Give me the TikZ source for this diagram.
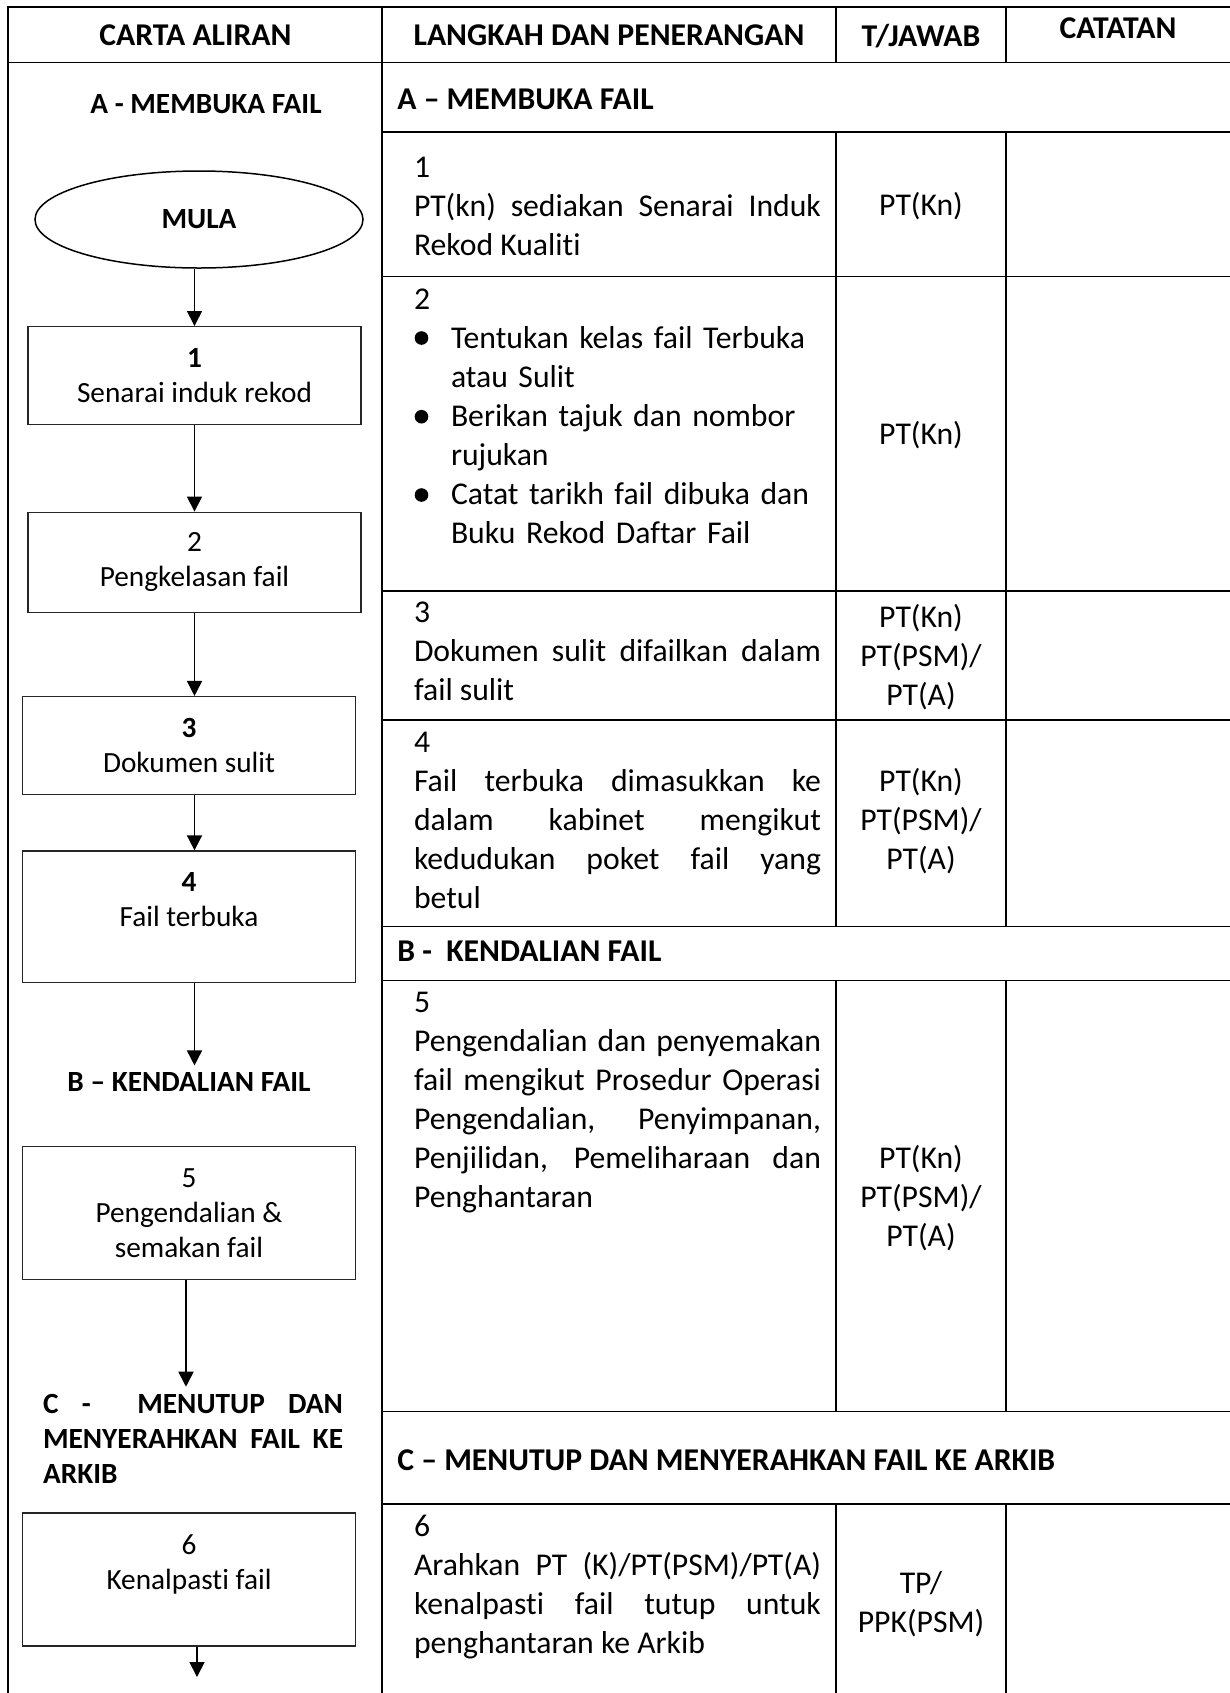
\documentclass[tikz,border=0pt]{standalone}
\usepackage{fontspec}
\setmainfont{Carlito}[Ligatures = {TeX, NoCommon}]
\usetikzlibrary{shapes.geometric, arrows.meta}

\hyphenpenalty=10000
\exhyphenpenalty=10000

\newcommand{\tabfont}{\fontsize{15.85}{19.5}\selectfont}
\newcommand{\boxfont}{\fontsize{14.65}{17.5}\selectfont}
\newlength{\bulind}
\setlength{\bulind}{18.5pt}
\newcommand{\bulitem}{\par\hangindent=\bulind\hangafter=1\noindent\hspace*{\bulind}}

\begin{document}
\begin{tikzpicture}[x = 0.5pt, y = -0.5pt, > = {Triangle[length = 7.5pt, width = 7.5pt]},
	flowbox/.style = {draw = black!85, line width = 0.65pt, rectangle, minimum width = 166.5pt, align = center, font = \boxfont, inner sep = 0pt},
	terminal/.style = {draw, line width = 0.75pt, ellipse, minimum width = 164pt, minimum height = 48.5pt, font = \boxfont\bfseries, inner sep = 0pt},
	heading/.style = {font = \boxfont\bfseries},
	title/.style = {inner sep = 0pt, font = \tabfont\bfseries},
	desc/.style = {anchor = base west, text width = 203.5pt, align = justify, inner sep = 0pt, font = \tabfont},
	resp/.style = {align = center, inner sep = 0pt, font = \tabfont},
	grid/.style = {line width = 0.85pt},
	flow/.style = {->, line width = 0.85pt}]

	% Page size
	
	\useasboundingbox (0, 0) rectangle (1230, 1693);
	
	% Table rules
	
	\begin{scope}[grid]
	
		\draw (1230, 7) -- (8, 7) -- (8, 1693);
		\draw (8, 62.5) -- (1230, 62.5);
		\draw (382, 7) -- (382, 1693);
		
		\foreach \y in {132, 276.5, 590.7, 720, 926.6, 980.6, 1411.5, 1504}
			\draw (382, \y) -- (1230, \y);
			
		\foreach \x in {836, 1006} {
			\draw (\x, 7) -- (\x, 62.5);
			\draw (\x, 132) -- (\x, 926.6);
			\draw (\x, 980.6) -- (\x, 1411.5);
			\draw (\x, 1504) -- (\x, 1693);
		}
		
	\end{scope}
	
	% Column titles
	
	\node [title] (tchart) at (195.5, 35.6) {CARTA ALIRAN};
	\node [title] (tstep) at (609, 35.6) {LANGKAH DAN PENERANGAN};
	\node [title] (tresp) at (921, 35.6) {T/JAWAB};
	\node [title] (tnote) at (1118, 28) {CATATAN};
	
	% Section rows
	
	\node [title, anchor = west] (secA) at (397, 99.4) {A -- MEMBUKA FAIL};
	\node [title, anchor = west] (secB) at (397, 951.5) {B - ~KENDALIAN FAIL};
	\node [title, anchor = west] (secC) at (397, 1460) {C -- MENUTUP DAN MENYERAHKAN FAIL KE ARKIB};
	
	% Steps and their descriptions
	
	\node [desc] (d1) at (413.6, 177.4) {1\par PT(kn) sediakan Senarai Induk \linebreak Rekod Kualiti};
	
	\node [desc, align = left] (d2) at (413.6, 309) {2\bulitem Tentukan kelas fail Terbuka\newline atau Sulit\bulitem Berikan tajuk dan nombor\newline rujukan\bulitem Catat tarikh fail dibuka dan\newline Buku Rekod Daftar Fail\par};
	\foreach \y in {338, 416.7, 495}
		\fill (421.5, \y) circle (6.8);
		
	\node [desc] (d3) at (413.6, 622) {3\par Dokumen sulit difailkan dalam \linebreak fail sulit};
	\node [desc] (d4) at (413.6, 752) {4\par Fail terbuka dimasukkan ke \linebreak dalam kabinet mengikut \linebreak kedudukan poket fail yang \linebreak betul};
	\node [desc] (d5) at (413.6, 1012) {5\par Pengendalian dan penyemakan \linebreak fail mengikut Prosedur Operasi \linebreak Pengendalian, Penyimpanan, \linebreak Penjilidan, Pemeliharaan dan \linebreak Penghantaran};
	\node [desc] (d6) at (413.6, 1536) {6\par Arahkan PT (K)/PT(PSM)/PT(A) \linebreak kenalpasti fail tutup untuk \linebreak penghantaran ke Arkib};
	
	% Who is responsible
	
	\node [resp] (r1) at (921, 206.3) {PT(Kn)};
	\node [resp] (r2) at (921, 435) {PT(Kn)};
	\node [resp] (r3) at (921, 656.6) {PT(Kn)\\PT(PSM)/\\PT(A)};
	\node [resp] (r4) at (921, 821) {PT(Kn)\\PT(PSM)/\\PT(A)};
	\node [resp] (r5) at (921, 1198) {PT(Kn)\\PT(PSM)/\\PT(A)};
	\node [resp] (r6) at (921, 1604) {TP/\\PPK(PSM)};
	
	% Flow chart
	
	\node [heading] (headA) at (206, 103.7) {A - MEMBUKA FAIL};
	\node [terminal] (mula) at (199, 219.5) {MULA};
	
	\node [flowbox, minimum height = 48.85pt] (box1) at (194.5, 375.5) {\textbf{1}\\Senarai induk rekod};
	\node [flowbox, minimum height = 50pt] (box2) at (194.5, 562.2) {2\\Pengkelasan fail};
	\node [flowbox, minimum width = 166.3pt, minimum height = 49.1pt] (box3) at (189, 745.7) {\textbf{3}\\Dokumen sulit};
	\node [flowbox, minimum width = 166.3pt, minimum height = 65.9pt] (box4) at (189, 916.9) {\textbf{4}\\Fail terbuka\\\mbox{}};
	
	\node [heading] (headB) at (189, 1082) {B -- KENDALIAN FAIL};
	
	\node [flowbox, minimum width = 166.3pt, minimum height = 66.5pt] (box5) at (189, 1213) {5\\Pengendalian \&\\semakan fail};
	
	\node [heading, anchor = base, text width = 150pt, align = justify] (headC) at (193, 1413) {C - \ MENUTUP DAN \linebreak MENYERAHKAN FAIL KE \linebreak ARKIB};
	
	\node [flowbox, minimum width = 166.3pt, minimum height = 66.5pt] (box6) at (189, 1579.5) {6\\Kenalpasti fail\\\mbox{}};
	\coordinate (next) at (197, 1677);
	
	% Arrows
	
	\begin{scope}[flow]
	
		\draw (mula.south -| box1.north) -- (box1.north);
		\draw (box1) -- (box2);
		\draw (box2.south) -- (box2.south |- box3.north);
		\draw (box3.south -| box2.south) -- (box4.north -| box2.south);
		\draw (box4.south -| box2.south) -- (headB.north -| box2.south);
		\draw ([xshift = -1.5pt] box5.south) -- ([xshift = -1.5pt] box5.south |- headC.north);
		\draw (box6.south -| next) -- (next);
		
	\end{scope}
		
\end{tikzpicture}
\end{document}
